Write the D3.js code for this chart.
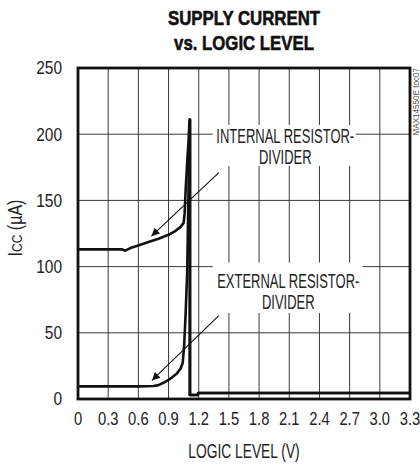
<!DOCTYPE html>
<html lang="en">
<head>
  <meta charset="UTF-8">
  <title>Supply current vs. logic level</title>
  <script src="https://d3js.org/d3.v7.min.js"></script>
  <style>
    * { padding: 0; margin: 0; box-sizing: border-box; }
    body { background: #fff; }
    svg { display: block; }
  </style>
</head>
<body>
  <div id="container"></div>
  <script>
    // chart data
    const titleLines = ["SUPPLY CURRENT", "vs. LOGIC LEVEL"];
    const xTicks = [0, 0.3, 0.6, 0.9, 1.2, 1.5, 1.8, 2.1, 2.4, 2.7, 3.0, 3.3];
    const yTicks = [0, 50, 100, 150, 200, 250];
    const xLabel = "LOGIC LEVEL (V)";
    const watermark = "MAX14550E toc07";

    // internal resistor-divider: [V, uA]
    const internalCurve = [
      [0, 113], [0.3, 113], [0.44, 113], [0.47, 112], [0.52, 114], [0.6, 116],
      [0.7, 118.5], [0.8, 121], [0.9, 124], [0.97, 127], [1.02, 130], [1.05, 133],
      [1.06, 140], [1.07, 158], [1.09, 185], [1.1, 196], [1.108, 211],
      [1.11, 211], [1.11, 3], [1.19, 3], [1.195, 4.5], [3.3, 4.5]
    ];
    // external resistor-divider: [V, uA]
    const externalCurve = [
      [0, 9.5], [0.3, 9.5], [0.6, 9.5], [0.75, 9.8], [0.8, 10.5], [0.87, 13],
      [0.93, 16], [0.98, 19], [1.02, 23], [1.04, 27], [1.055, 40], [1.07, 65],
      [1.085, 95], [1.095, 140], [1.105, 190], [1.115, 211],
      [1.115, 3], [1.19, 3], [1.195, 4.5], [3.3, 4.5]
    ];

    const width = 420, height = 464;
    const margin = { top: 68, right: 10, bottom: 65, left: 78 };
    // no condensed font installed, so Liberation Sans gets squeezed horizontally
    const font = "'Liberation Sans', Arial, sans-serif";

    const x = d3.scaleLinear().domain([0, 3.3]).range([margin.left, width - margin.right]);
    const y = d3.scaleLinear().domain([0, 250]).range([height - margin.bottom, margin.top]);

    const svg = d3.select("#container").append("svg")
      .attr("width", width)
      .attr("height", height)
      .attr("font-family", font)
      .attr("fill", "#222");

    const squeeze = (px, py, sx, rot = 0) =>
      `translate(${px},${py})` + (rot ? ` rotate(${rot})` : "") + ` scale(${sx},1)`;

    // title (a thin stroke makes it look heavier, like the original)
    svg.append("g").selectAll("text")
      .data(titleLines)
      .join("text")
      .attr("transform", (d, i) => squeeze((x(0) + x(3.3)) / 2, 25 + i * 25, 0.8))
      .attr("text-anchor", "middle")
      .attr("font-size", 21)
      .attr("font-weight", "bold")
      .attr("fill", "#111")
      .attr("stroke", "#111")
      .attr("stroke-width", 0.6)
      .text(d => d);

    // grid
    const grid = svg.append("g").attr("stroke", "#3a3a3a").attr("stroke-width", 1);
    grid.selectAll("line.v")
      .data(xTicks.slice(1, -1))
      .join("line")
      .attr("class", "v")
      .attr("x1", d => x(d)).attr("x2", d => x(d))
      .attr("y1", y(250)).attr("y2", y(0));
    grid.selectAll("line.h")
      .data(yTicks.slice(1, -1))
      .join("line")
      .attr("class", "h")
      .attr("x1", x(0)).attr("x2", x(3.3))
      .attr("y1", d => y(d)).attr("y2", d => y(d));

    // tick labels
    svg.append("g").selectAll("text")
      .data(xTicks)
      .join("text")
      .attr("transform", d => squeeze(x(d), y(0) + 26, 0.82))
      .attr("text-anchor", "middle")
      .attr("font-size", 18)
      .text(d => d.toFixed(1).replace(/^0\.0$/, "0"));

    svg.append("g").selectAll("text")
      .data(yTicks)
      .join("text")
      .attr("transform", d => squeeze(x(0) - 16, y(d), 0.86))
      .attr("dy", "0.36em")
      .attr("text-anchor", "end")
      .attr("font-size", 18)
      .text(d => d);

    // axis titles
    svg.append("text")
      .attr("transform", squeeze((x(0) + x(3.3)) / 2, 458, 0.69))
      .attr("text-anchor", "middle")
      .attr("font-size", 20)
      .text(xLabel);

    const yl = svg.append("text")
      .attr("transform", squeeze(22, 228, 0.8, -90))
      .attr("text-anchor", "middle")
      .attr("font-size", 20);
    yl.append("tspan").text("I");
    yl.append("tspan").attr("font-size", 15).text("CC");
    yl.append("tspan").text(" (\u00b5A)");

    // curves
    const line = d3.line().x(d => x(d[0])).y(d => y(d[1]));
    svg.append("g")
      .attr("fill", "none")
      .attr("stroke", "#111")
      .attr("stroke-width", 2.6)
      .attr("stroke-linejoin", "round")
      .selectAll("path")
      .data([internalCurve, externalCurve])
      .join("path")
      .attr("d", line);

    // annotations: white box behind text, label, arrow pointing to curve
    svg.append("defs").append("marker")
      .attr("id", "arrow")
      .attr("viewBox", "0 0 10 10")
      .attr("refX", 10).attr("refY", 5)
      .attr("markerWidth", 10).attr("markerHeight", 8)
      .attr("markerUnits", "userSpaceOnUse")
      .attr("orient", "auto")
      .append("path")
      .attr("d", "M0,0L10,5L0,10Z")
      .attr("fill", "#111");

    const notes = [
      { lines: ["INTERNAL RESISTOR-", "DIVIDER"], box: [1.34, 2.76, 207, 176], text: [2.06, 143], from: [1.4, 171], to: [0.73, 123] },
      { lines: ["EXTERNAL RESISTOR-", "DIVIDER"], box: [1.34, 2.83, 103, 65], text: [2.09, 288], from: [1.4, 63], to: [0.735, 14] }
    ];
    notes.forEach(n => {
      svg.append("rect")
        .attr("x", x(n.box[0])).attr("y", y(n.box[2]))
        .attr("width", x(n.box[1]) - x(n.box[0]))
        .attr("height", y(n.box[3]) - y(n.box[2]))
        .attr("fill", "#fff");
      svg.append("g").selectAll("text")
        .data(n.lines)
        .join("text")
        .attr("transform", (d, i) => squeeze(x(n.text[0]), n.text[1] + i * 21, 0.65))
        .attr("text-anchor", "middle")
        .attr("font-size", 20)
        .text(d => d);
      svg.append("line")
        .attr("x1", x(n.from[0])).attr("y1", y(n.from[1]))
        .attr("x2", x(n.to[0])).attr("y2", y(n.to[1]))
        .attr("stroke", "#111")
        .attr("stroke-width", 1.1)
        .attr("marker-end", "url(#arrow)");
    });

    // frame
    svg.append("rect")
      .attr("x", x(0)).attr("y", y(250))
      .attr("width", x(3.3) - x(0))
      .attr("height", y(0) - y(250))
      .attr("fill", "none")
      .attr("stroke", "#111")
      .attr("stroke-width", 2.8);

    svg.append("text")
      .attr("transform", squeeze(x(3.3) + 9, y(250), 0.9, -90))
      .attr("text-anchor", "end")
      .attr("font-size", 9)
      .attr("fill", "#555")
      .text(watermark);
  </script>
</body>
</html>
